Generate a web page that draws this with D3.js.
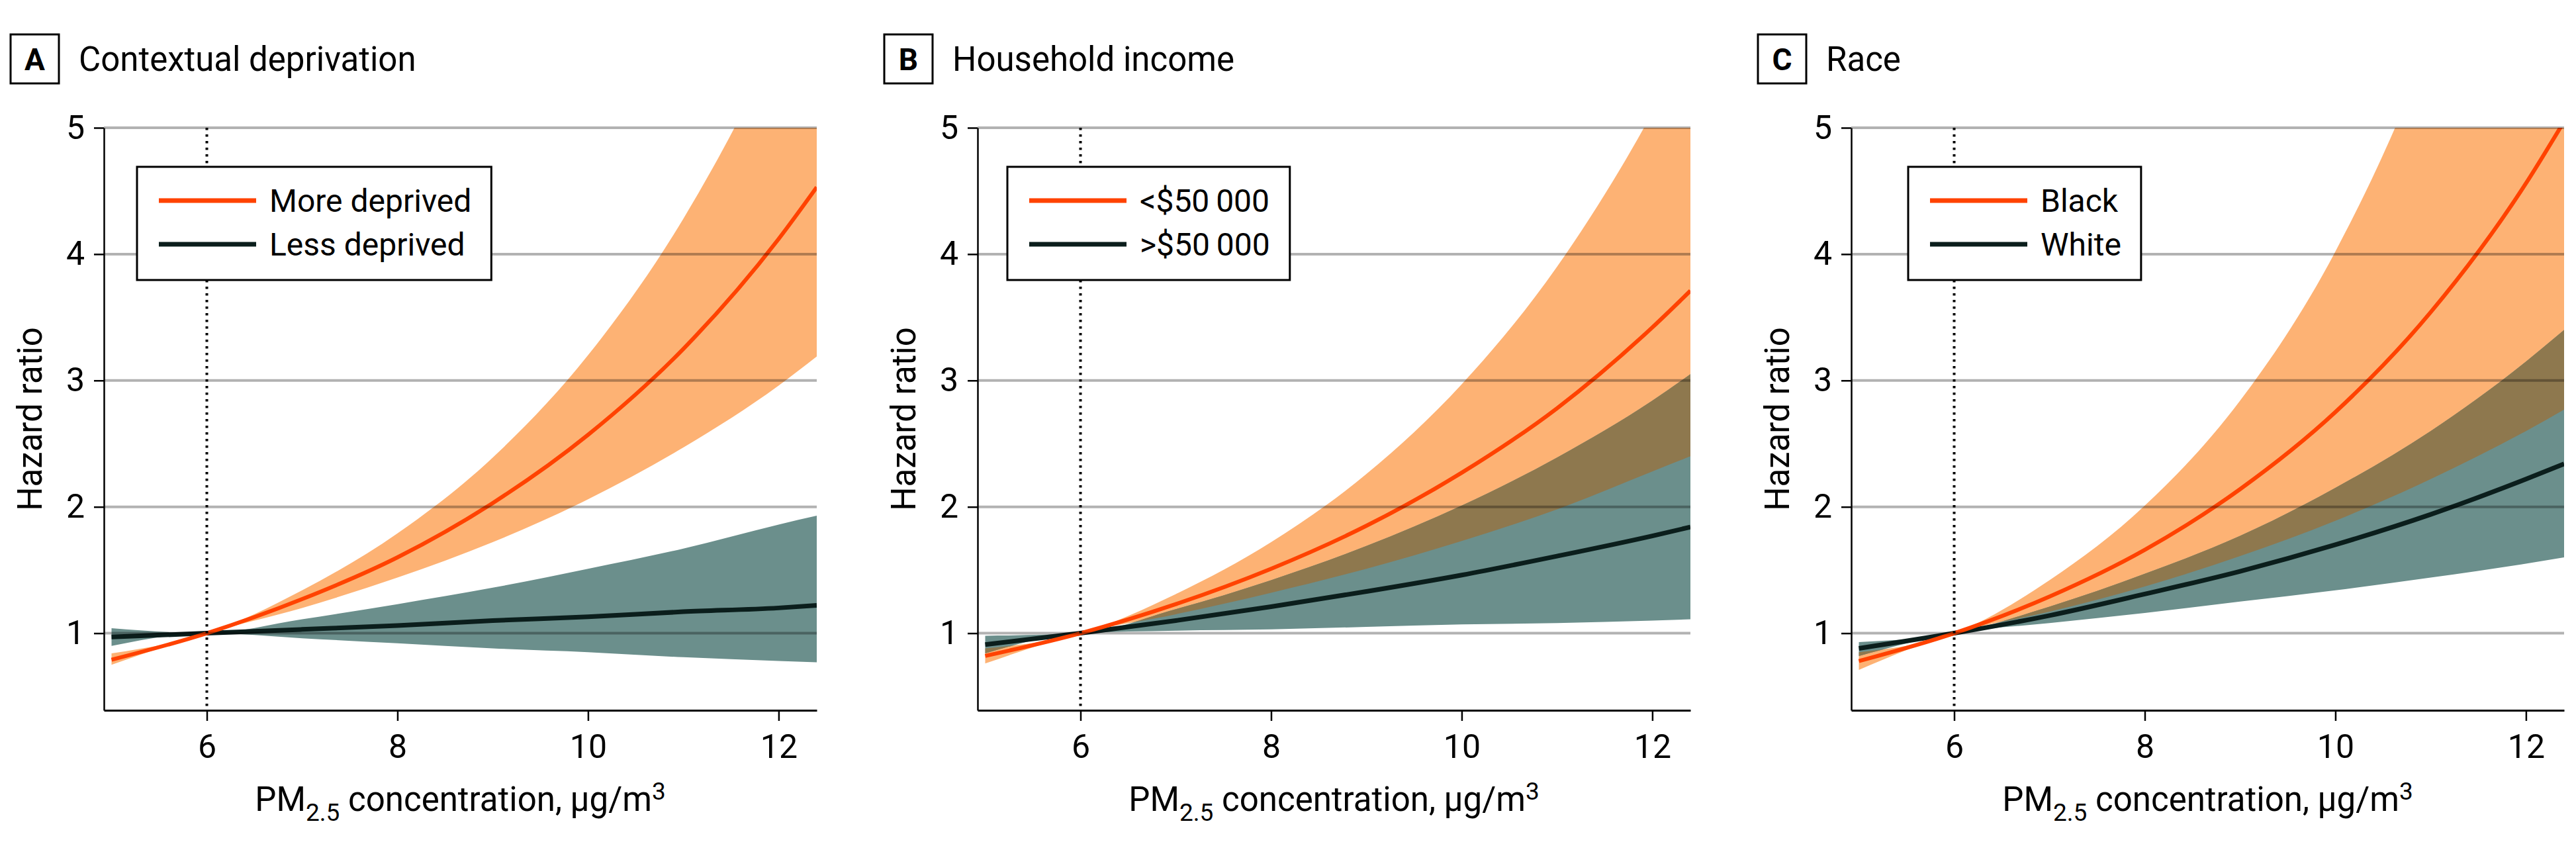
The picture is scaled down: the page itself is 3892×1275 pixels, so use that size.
<!DOCTYPE html>
<html>
<head>
<meta charset="utf-8">
<script src="https://d3js.org/d3.v7.min.js"></script>
<style>
  body { margin: 0; background: #fff; }
  text { font-family: Roboto, "Open Sans", sans-serif; fill: #000; }
</style>
</head>
<body>
<svg id="chart" width="3892" height="1275"></svg>
<script>
var pm25 = [5, 6, 7, 8, 9, 10, 11, 12, 12.4];
var xTicks = [6, 8, 10, 12];
var yTicks = [1, 2, 3, 4, 5];

var panelLetters = ["A", "B", "C"];
var panelTitles = ["Contextual deprivation", "Household income", "Race"];
var groupNames = [
	["More deprived", "Less deprived"],
	["<$50\u2009000", ">$50\u2009000"],
	["Black", "White"]
];

// A: contextual deprivation
var moreDepHR = [0.79, 1, 1.27, 1.60, 2.03, 2.57, 3.25, 4.12, 4.53];
var moreDepLo = [0.75, 1, 1.20, 1.44, 1.72, 2.06, 2.47, 2.96, 3.19];
var moreDepHi = [0.84, 1, 1.34, 1.79, 2.39, 3.20, 4.28, 5.72, 6.43];
var lessDepHR = [0.97, 1, 1.03, 1.06, 1.10, 1.13, 1.17, 1.20, 1.22];
var lessDepLo = [0.90, 1, 0.96, 0.92, 0.88, 0.85, 0.81, 0.78, 0.77];
var lessDepHi = [1.04, 1, 1.11, 1.23, 1.36, 1.51, 1.67, 1.86, 1.93];

// B: household income
var lowIncHR = [0.82, 1, 1.23, 1.51, 1.85, 2.27, 2.78, 3.42, 3.71];
var lowIncLo = [0.88, 1, 1.15, 1.32, 1.51, 1.73, 1.98, 2.28, 2.40];
var lowIncHi = [0.76, 1, 1.31, 1.72, 2.26, 2.97, 3.90, 5.12, 5.70];
var highIncHR = [0.91, 1, 1.10, 1.21, 1.33, 1.46, 1.61, 1.77, 1.84];
var highIncLo = [0.98, 1, 1.02, 1.03, 1.05, 1.07, 1.08, 1.10, 1.11];
var highIncHi = [0.84, 1, 1.19, 1.42, 1.69, 2.01, 2.39, 2.84, 3.05];

// C: race
var blackHR = [0.78, 1, 1.29, 1.66, 2.14, 2.75, 3.54, 4.56, 5.05];
var blackLo = [0.85, 1, 1.17, 1.37, 1.61, 1.89, 2.22, 2.60, 2.77];
var blackHi = [0.71, 1, 1.42, 2.01, 2.84, 4.02, 5.70, 8.07, 9.29];
var whiteHR = [0.88, 1, 1.14, 1.31, 1.49, 1.70, 1.94, 2.22, 2.34];
var whiteLo = [0.93, 1, 1.08, 1.16, 1.25, 1.34, 1.44, 1.55, 1.60];
var whiteHi = [0.82, 1, 1.21, 1.47, 1.77, 2.15, 2.60, 3.15, 3.40];

function rows(hr, lo, hi) {
	return pm25.map(function(v, k) {
		return { x: v, hr: hr[k], lo: Math.min(lo[k], hi[k]), hi: Math.max(lo[k], hi[k]) };
	});
}

var panels = [
	{ orange: rows(moreDepHR, moreDepLo, moreDepHi), teal: rows(lessDepHR, lessDepLo, lessDepHi) },
	{ orange: rows(lowIncHR, lowIncLo, lowIncHi), teal: rows(highIncHR, highIncLo, highIncHi) },
	{ orange: rows(blackHR, blackLo, blackHi), teal: rows(whiteHR, whiteLo, whiteHi) }
];

// layout
var plotLeft = 157, panelStep = 1320, plotWidth = 1077;
var plotTop = 193, plotBottom = 1073;
var xDomain = [4.92, 12.4], yDomain = [0.39, 5];
var legendLeft = [50, 45, 86];

var colors = {
	orangeLine: "#ff4200",
	orangeBand: "#fdb274",
	tealBand: "#6b8f8c",
	overlap: "#8e784e",
	darkLine: "#0b1e1c"
};

var svg = d3.select("#chart");
var defs = svg.append("defs");

panels.forEach(function(p, i) {
	var left = plotLeft + i * panelStep;
	var g = svg.append("g").attr("transform", "translate(" + left + ",0)");
	var x = d3.scaleLinear().domain(xDomain).range([0, plotWidth]);
	var y = d3.scaleLinear().domain(yDomain).range([plotBottom, plotTop]);

	defs.append("clipPath").attr("id", "plot-" + i)
		.append("rect")
		.attr("x", 0).attr("y", plotTop)
		.attr("width", plotWidth).attr("height", plotBottom - plotTop);

	var band = d3.area()
		.x(function(d) { return x(d.x); })
		.y0(function(d) { return y(d.lo); })
		.y1(function(d) { return y(d.hi); })
		.curve(d3.curveMonotoneX);
	var line = d3.line()
		.x(function(d) { return x(d.x); })
		.y(function(d) { return y(d.hr); })
		.curve(d3.curveMonotoneX);

	defs.append("clipPath").attr("id", "teal-" + i)
		.append("path").attr("d", band(p.teal));

	var plot = g.append("g").attr("clip-path", "url(#plot-" + i + ")");
	plot.append("path").attr("d", band(p.orange)).attr("fill", colors.orangeBand);
	plot.append("path").attr("d", band(p.teal)).attr("fill", colors.tealBand);
	plot.append("g").attr("clip-path", "url(#teal-" + i + ")")
		.append("path").attr("d", band(p.orange)).attr("fill", colors.overlap);

	// gridlines sit over the bands
	g.selectAll("line.grid").data(yTicks).enter()
		.append("line")
		.attr("class", "grid")
		.attr("x1", 0).attr("x2", plotWidth)
		.attr("y1", function(d) { return y(d); })
		.attr("y2", function(d) { return y(d); })
		.attr("stroke", "#000").attr("stroke-opacity", 0.3)
		.attr("stroke-width", 4);

	// reference line at 6
	g.append("line")
		.attr("x1", x(6)).attr("x2", x(6))
		.attr("y1", plotTop).attr("y2", plotBottom - 6)
		.attr("stroke", "#000").attr("stroke-width", 4)
		.attr("stroke-dasharray", "3.5,6.5");

	plot.append("path").attr("d", line(p.teal))
		.attr("fill", "none").attr("stroke", colors.darkLine).attr("stroke-width", 7);
	plot.append("path").attr("d", line(p.orange))
		.attr("fill", "none").attr("stroke", colors.orangeLine).attr("stroke-width", 6);

	// axes
	var yAxis = g.append("g")
		.call(d3.axisLeft(y).tickValues(yTicks).tickFormat(d3.format("d"))
			.tickSize(15).tickSizeOuter(0).tickPadding(14));
	yAxis.select(".domain").attr("stroke-width", 2.5);
	yAxis.selectAll(".tick line").attr("stroke-width", 2.5);
	yAxis.selectAll("text").attr("font-size", 50).attr("font-family", null);

	var xAxis = g.append("g")
		.attr("transform", "translate(0," + plotBottom + ")")
		.call(d3.axisBottom(x).tickValues(xTicks).tickSize(16).tickSizeOuter(0).tickPadding(20));
	xAxis.select(".domain").attr("stroke-width", 3);
	xAxis.selectAll(".tick line").attr("stroke-width", 2.5);
	xAxis.selectAll("text").attr("font-size", 50).attr("font-family", null);

	g.append("text")
		.attr("transform", "translate(-94," + ((plotTop + plotBottom) / 2) + ") rotate(-90)")
		.attr("text-anchor", "middle")
		.attr("font-size", 51)
		.text("Hazard ratio");

	var xt = g.append("text")
		.attr("x", plotWidth / 2).attr("y", 1225)
		.attr("text-anchor", "middle")
		.attr("font-size", 51);
	xt.append("tspan").text("PM");
	xt.append("tspan").attr("font-size", 37).attr("dy", 15).text("2.5");
	xt.append("tspan").attr("dy", -15).text(" concentration, \u00b5g/m");
	xt.append("tspan").attr("font-size", 37).attr("dy", -17).text("3");

	// panel heading
	g.append("rect")
		.attr("x", -141).attr("y", 52)
		.attr("width", 73).attr("height", 74)
		.attr("fill", "none").attr("stroke", "#000").attr("stroke-width", 3);
	g.append("text")
		.attr("x", -104.5).attr("y", 106)
		.attr("text-anchor", "middle")
		.attr("font-size", 46).attr("font-weight", "bold")
		.text(panelLetters[i]);
	g.append("text")
		.attr("x", -38).attr("y", 107)
		.attr("font-size", 51)
		.text(panelTitles[i]);

	// legend
	var lg = g.append("g").attr("transform", "translate(" + legendLeft[i] + ",252)");
	var box = lg.append("rect")
		.attr("height", 171)
		.attr("fill", "#fff").attr("stroke", "#000").attr("stroke-width", 3);
	var maxW = 0;
	[colors.orangeLine, colors.darkLine].forEach(function(c, k) {
		var ry = 51 + k * 66;
		lg.append("line")
			.attr("x1", 33).attr("x2", 180)
			.attr("y1", ry).attr("y2", ry)
			.attr("stroke", c).attr("stroke-width", 7);
		var t = lg.append("text")
			.attr("x", 200).attr("y", ry)
			.attr("dy", "0.36em")
			.attr("font-size", 48)
			.text(groupNames[i][k]);
		maxW = Math.max(maxW, t.node().getComputedTextLength());
	});
	box.attr("width", 200 + maxW + 30);
});
</script>
</body>
</html>
